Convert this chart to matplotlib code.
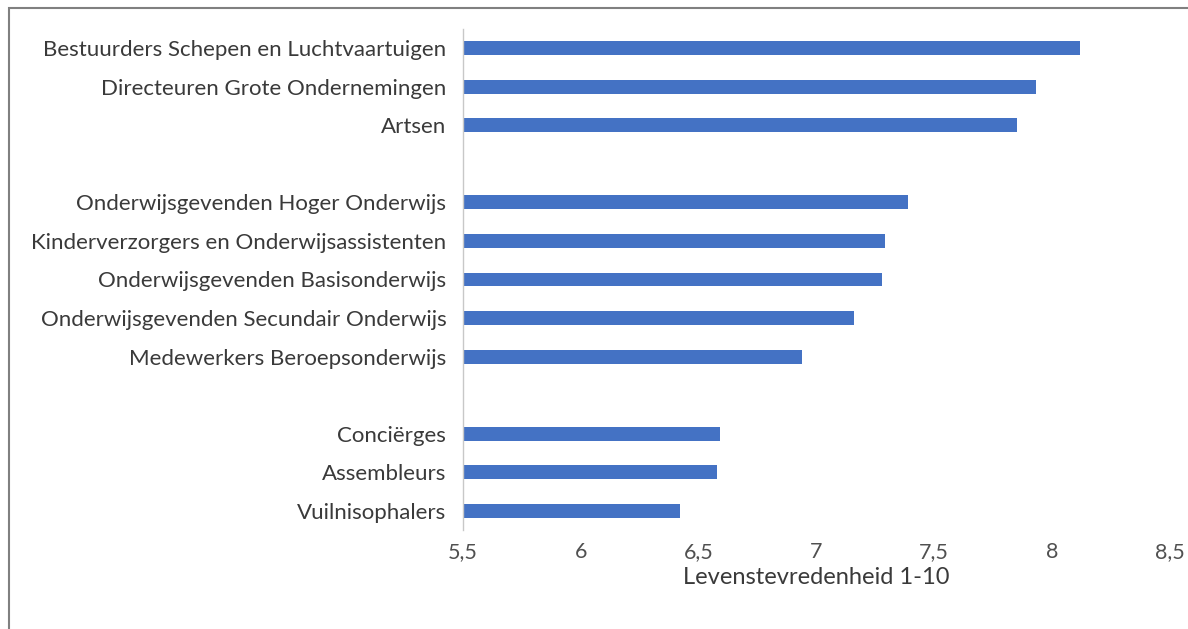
import numpy as np
import matplotlib
matplotlib.use('Agg')
import matplotlib.pyplot as plt
from matplotlib.patches import Rectangle
from matplotlib.ticker import FuncFormatter

# groups, top to bottom
group_top = ["Bestuurders Schepen en Luchtvaartuigen",
             "Directeuren Grote Ondernemingen",
             "Artsen"]
values_top = [8.12, 7.93, 7.85]

group_mid = ["Onderwijsgevenden Hoger Onderwijs",
             "Kinderverzorgers en Onderwijsassistenten",
             "Onderwijsgevenden Basisonderwijs",
             "Onderwijsgevenden Secundair Onderwijs",
             "Medewerkers Beroepsonderwijs"]
values_mid = [7.39, 7.29, 7.28, 7.16, 6.94]

group_low = ["Conciërges", "Assembleurs", "Vuilnisophalers"]
values_low = [6.59, 6.58, 6.42]

x_ticks = [5.5, 6, 6.5, 7, 7.5, 8, 8.5]
x_label = "Levenstevredenheid 1-10"

# ------------------------------------------------------------------

labels, vals = [], []
for g, v in [(group_top, values_top), (group_mid, values_mid), (group_low, values_low)]:
    if labels:
        labels.append("")
        vals.append(np.nan)
    labels += g
    vals += v

pos = np.arange(len(labels))[::-1]

plt.rcParams['font.family'] = ['Lato', 'DejaVu Sans']

fig = plt.figure(figsize=(11.88, 6.29), dpi=100)
ax = fig.add_axes([0.3897, 0.1574, 0.5951, 0.7965])

mask = ~np.isnan(vals)
ax.barh(pos[mask], np.array(vals)[mask], height=0.36, color='#4472C4')
ax.set_xlim(5.5, 8.5)
ax.set_ylim(-0.5, len(labels) - 0.5)

ax.set_yticks(pos)
ax.set_yticklabels(labels, fontsize=16, color='#3a3a3a')
ax.set_xticks(x_ticks)
ax.xaxis.set_major_formatter(FuncFormatter(lambda v, p: f"{v:g}".replace('.', ',')))
ax.tick_params(axis='x', labelsize=15.5, labelcolor='#505050', length=0, pad=9)
ax.tick_params(axis='y', length=0, pad=12)
ax.set_xlabel(x_label, fontsize=17, color='#3a3a3a', labelpad=3)

for s in ['top', 'right', 'bottom']:
    ax.spines[s].set_visible(False)
ax.spines['left'].set_color('#c8c8c8')
ax.spines['left'].set_linewidth(1)

# outer frame
fig.patches.append(Rectangle((9 / 1188, -0.05), 1.2, 1.05 - 8 / 629,
                             transform=fig.transFigure, fill=False,
                             edgecolor='#808080', linewidth=1.5))

plt.savefig('out.png', dpi=100)
